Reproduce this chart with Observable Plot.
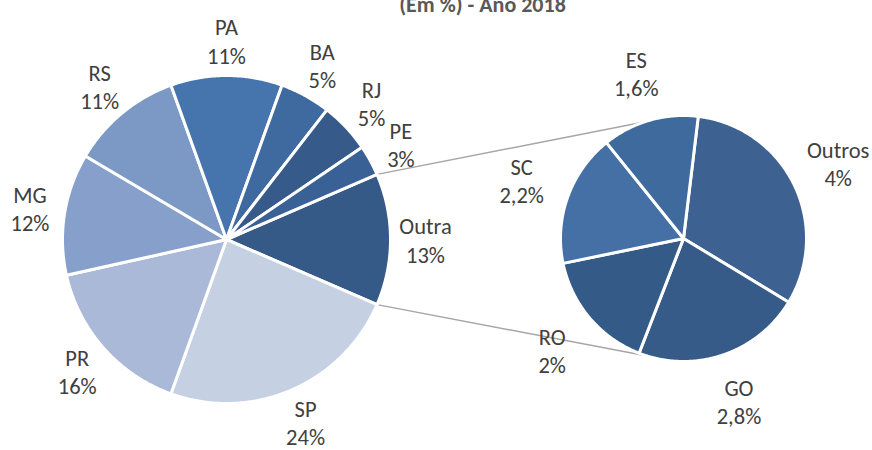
<!DOCTYPE html>
<html><head><meta charset="utf-8">
<script src="https://cdn.jsdelivr.net/npm/d3@7"></script>
<script src="https://cdn.jsdelivr.net/npm/@observablehq/plot@0.6"></script>
<style>html,body{margin:0;padding:0;background:#fff;overflow:hidden}</style>
</head><body><div id="chart"></div>
<script>
// Main pie (order clockwise starting with the exploded "Outra" slice)
const mainNames  = ["Outra","SP","PR","MG","RS","PA","BA","RJ","PE"];
const mainValues = [13,24,16,12,11,11,5,5,3];
const mainColors = ["#355a87","#c5d0e3","#aab9d7","#86a0cb","#7c99c6","#4674ad","#3f6aa0","#365b8b","#3a6195"];
// Secondary pie (breakdown of "Outra")
const subNames  = ["Outros","GO","RO","SC","ES"];
const subValues = [4,2.8,2,2.2,1.6];
const subColors = ["#3d6291","#365b89","#345a87","#4470a6","#3e6a9e"];
const title = "(Em %) - Ano 2018";

const W = 872, H = 450;
const FONT = "Carlito, Calibri, Lato, sans-serif";
const rad = Math.PI / 180;
const main = {cx: 226, cy: 239, r: 164, start: 90 - (mainValues[0] / d3.sum(mainValues)) * 180, labelR: 199};
const sub  = {cx: 683, cy: 238, r: 123, start: 6.9, labelR: 172};
const fmt = v => String(v).replace(".", ",") + "%";
const pt = (g, a, r) => ({x: g.cx + r * Math.sin(a * rad), y: g.cy - r * Math.cos(a * rad)});

function build(names, values, colors, g) {
  const total = d3.sum(values);
  let a = g.start;
  const polys = [], labels = [], edges = [];
  names.forEach((n, i) => {
    const span = values[i] / total * 360, a0 = a, a1 = a + span;
    const steps = Math.max(4, Math.ceil(span / 0.5));
    const pts = [{x: g.cx, y: g.cy}];
    for (let k = 0; k <= steps; k++) pts.push(pt(g, a0 + (a1 - a0) * k / steps, g.r));
    pts.push({x: g.cx, y: g.cy});
    pts.forEach(p => { p.key = n; p.color = colors[i]; });
    polys.push(...pts);
    const lp = pt(g, (a0 + a1) / 2, g.labelR);
    labels.push({...lp, text: n + "\n" + fmt(values[i])});
    edges.push([a0, a1]);
    a = a1;
  });
  return {polys, labels, edges};
}
const M = build(mainNames, mainValues, mainColors, main);
const S = build(subNames, subValues, subColors, sub);

// connector lines from the edges of the "Outra" slice to the secondary pie
const [oa0, oa1] = M.edges[0];
const connectors = [
  {...pt(main, oa0, main.r), k: "top"}, {...pt(sub, 341.3, sub.r), k: "top"},
  {...pt(main, oa1, main.r), k: "bot"}, {...pt(sub, 197.1, sub.r), k: "bot"}
];

const chart = Plot.plot({
  width: W, height: H,
  margin: 0,
  x: {domain: [0, W], range: [0, W], axis: null},
  y: {domain: [0, H], range: [0, H], axis: null},
  color: {type: "identity"},
  style: {fontFamily: FONT, background: "white"},
  marks: [
    Plot.line(connectors, {x: "x", y: "y", z: "k", stroke: "#a6a6a6", strokeWidth: 1.5}),
    Plot.line(M.polys, {x: "x", y: "y", z: "key", fill: "color", stroke: "white", strokeWidth: 3, strokeLinejoin: "round"}),
    Plot.line(S.polys, {x: "x", y: "y", z: "key", fill: "color", stroke: "white", strokeWidth: 3, strokeLinejoin: "round"}),
    Plot.text(M.labels.concat(S.labels), {x: "x", y: "y", text: "text", fill: "#404040", fontSize: 22.5, lineHeight: 1.25, textAnchor: "middle"}),
    Plot.text([title], {frameAnchor: "top", dx: 46, dy: 11, lineAnchor: "bottom", text: d => d, fill: "#595959", fontSize: 22, fontWeight: "bold"})
  ]
});
document.getElementById("chart").appendChild(chart);
</script>
</body></html>
